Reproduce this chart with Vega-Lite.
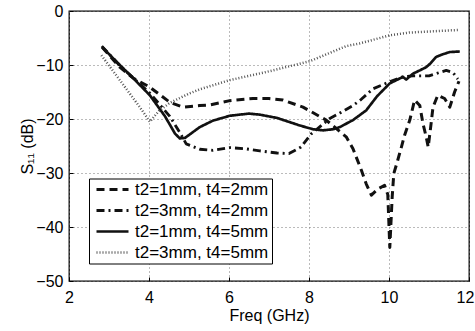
{
  "$schema": "https://vega.github.io/schema/vega-lite/v6.json",
  "width": 400,
  "height": 270,
  "autosize": "none",
  "padding": {"left": 69, "top": 11, "right": 6, "bottom": 50},
  "background": "white",
  "config": {
    "font": "Liberation Sans",
    "view": {"stroke": "black", "strokeWidth": 1.3},
    "axis": {
      "domain": false,
      "grid": true,
      "gridColor": "#777",
      "gridDash": [1, 3],
      "gridWidth": 1,
      "tickColor": "black",
      "tickSize": -4,
      "tickWidth": 1,
      "labelFont": "Liberation Sans",
      "labelFontSize": 16,
      "labelColor": "black",
      "titleFont": "Liberation Sans",
      "titleFontSize": 16,
      "titleFontWeight": "normal",
      "titleColor": "black"
    },
    "legend": {
      "labelFont": "Liberation Sans",
      "labelFontSize": 17,
      "labelColor": "black"
    }
  },
  "data": {
    "values": [
      {"series": "t2=1mm, t4=2mm", "f": 2.83, "s": -6.7},
      {"series": "t2=1mm, t4=2mm", "f": 3.27, "s": -10.4},
      {"series": "t2=1mm, t4=2mm", "f": 3.6, "s": -12.4},
      {"series": "t2=1mm, t4=2mm", "f": 4.02, "s": -14.1},
      {"series": "t2=1mm, t4=2mm", "f": 4.52, "s": -16.9},
      {"series": "t2=1mm, t4=2mm", "f": 4.85, "s": -17.8},
      {"series": "t2=1mm, t4=2mm", "f": 5.27, "s": -17.5},
      {"series": "t2=1mm, t4=2mm", "f": 5.52, "s": -17.4},
      {"series": "t2=1mm, t4=2mm", "f": 6.02, "s": -16.6},
      {"series": "t2=1mm, t4=2mm", "f": 6.6, "s": -16.2},
      {"series": "t2=1mm, t4=2mm", "f": 7.0, "s": -16.2},
      {"series": "t2=1mm, t4=2mm", "f": 7.35, "s": -16.5},
      {"series": "t2=1mm, t4=2mm", "f": 7.85, "s": -17.8},
      {"series": "t2=1mm, t4=2mm", "f": 8.43, "s": -20.2},
      {"series": "t2=1mm, t4=2mm", "f": 8.93, "s": -23.3},
      {"series": "t2=1mm, t4=2mm", "f": 9.1, "s": -25.5},
      {"series": "t2=1mm, t4=2mm", "f": 9.31, "s": -29.5},
      {"series": "t2=1mm, t4=2mm", "f": 9.43, "s": -32.0},
      {"series": "t2=1mm, t4=2mm", "f": 9.56, "s": -34.1},
      {"series": "t2=1mm, t4=2mm", "f": 9.73, "s": -32.9},
      {"series": "t2=1mm, t4=2mm", "f": 9.89, "s": -32.3},
      {"series": "t2=1mm, t4=2mm", "f": 9.97, "s": -34.0},
      {"series": "t2=1mm, t4=2mm", "f": 10.02, "s": -43.8},
      {"series": "t2=1mm, t4=2mm", "f": 10.08, "s": -34.4},
      {"series": "t2=1mm, t4=2mm", "f": 10.12, "s": -30.1},
      {"series": "t2=1mm, t4=2mm", "f": 10.22, "s": -27.6},
      {"series": "t2=1mm, t4=2mm", "f": 10.31, "s": -25.2},
      {"series": "t2=1mm, t4=2mm", "f": 10.39, "s": -23.0},
      {"series": "t2=1mm, t4=2mm", "f": 10.52, "s": -20.2},
      {"series": "t2=1mm, t4=2mm", "f": 10.64, "s": -16.5},
      {"series": "t2=1mm, t4=2mm", "f": 10.77, "s": -17.5},
      {"series": "t2=1mm, t4=2mm", "f": 10.85, "s": -20.9},
      {"series": "t2=1mm, t4=2mm", "f": 10.93, "s": -23.3},
      {"series": "t2=1mm, t4=2mm", "f": 10.98, "s": -25.2},
      {"series": "t2=1mm, t4=2mm", "f": 11.05, "s": -21.0},
      {"series": "t2=1mm, t4=2mm", "f": 11.1, "s": -17.8},
      {"series": "t2=1mm, t4=2mm", "f": 11.22, "s": -15.6},
      {"series": "t2=1mm, t4=2mm", "f": 11.39, "s": -16.2},
      {"series": "t2=1mm, t4=2mm", "f": 11.52, "s": -17.8},
      {"series": "t2=1mm, t4=2mm", "f": 11.64, "s": -15.0},
      {"series": "t2=1mm, t4=2mm", "f": 11.75, "s": -13.0},

      {"series": "t2=3mm, t4=2mm", "f": 2.82, "s": -6.5},
      {"series": "t2=3mm, t4=2mm", "f": 3.27, "s": -10.1},
      {"series": "t2=3mm, t4=2mm", "f": 4.02, "s": -15.2},
      {"series": "t2=3mm, t4=2mm", "f": 4.52, "s": -19.5},
      {"series": "t2=3mm, t4=2mm", "f": 4.77, "s": -22.5},
      {"series": "t2=3mm, t4=2mm", "f": 4.93, "s": -24.6},
      {"series": "t2=3mm, t4=2mm", "f": 5.27, "s": -25.6},
      {"series": "t2=3mm, t4=2mm", "f": 5.6, "s": -25.8},
      {"series": "t2=3mm, t4=2mm", "f": 6.02, "s": -25.3},
      {"series": "t2=3mm, t4=2mm", "f": 6.4, "s": -25.5},
      {"series": "t2=3mm, t4=2mm", "f": 6.77, "s": -25.9},
      {"series": "t2=3mm, t4=2mm", "f": 7.2, "s": -26.3},
      {"series": "t2=3mm, t4=2mm", "f": 7.5, "s": -26.4},
      {"series": "t2=3mm, t4=2mm", "f": 7.8, "s": -25.2},
      {"series": "t2=3mm, t4=2mm", "f": 8.05, "s": -22.8},
      {"series": "t2=3mm, t4=2mm", "f": 8.52, "s": -19.9},
      {"series": "t2=3mm, t4=2mm", "f": 8.77, "s": -18.9},
      {"series": "t2=3mm, t4=2mm", "f": 9.1, "s": -17.5},
      {"series": "t2=3mm, t4=2mm", "f": 9.3, "s": -16.4},
      {"series": "t2=3mm, t4=2mm", "f": 9.6, "s": -14.4},
      {"series": "t2=3mm, t4=2mm", "f": 10.02, "s": -13.1},
      {"series": "t2=3mm, t4=2mm", "f": 10.34, "s": -12.2},
      {"series": "t2=3mm, t4=2mm", "f": 10.6, "s": -12.0},
      {"series": "t2=3mm, t4=2mm", "f": 11.0, "s": -12.0},
      {"series": "t2=3mm, t4=2mm", "f": 11.3, "s": -11.3},
      {"series": "t2=3mm, t4=2mm", "f": 11.43, "s": -11.0},
      {"series": "t2=3mm, t4=2mm", "f": 11.6, "s": -11.4},
      {"series": "t2=3mm, t4=2mm", "f": 11.72, "s": -12.6},

      {"series": "t2=1mm, t4=5mm", "f": 2.83, "s": -6.7},
      {"series": "t2=1mm, t4=5mm", "f": 3.27, "s": -10.0},
      {"series": "t2=1mm, t4=5mm", "f": 3.6, "s": -12.4},
      {"series": "t2=1mm, t4=5mm", "f": 4.02, "s": -15.6},
      {"series": "t2=1mm, t4=5mm", "f": 4.4, "s": -19.5},
      {"series": "t2=1mm, t4=5mm", "f": 4.65, "s": -22.7},
      {"series": "t2=1mm, t4=5mm", "f": 4.77, "s": -23.6},
      {"series": "t2=1mm, t4=5mm", "f": 4.9, "s": -23.5},
      {"series": "t2=1mm, t4=5mm", "f": 5.27, "s": -21.5},
      {"series": "t2=1mm, t4=5mm", "f": 5.6, "s": -20.3},
      {"series": "t2=1mm, t4=5mm", "f": 6.02, "s": -19.4},
      {"series": "t2=1mm, t4=5mm", "f": 6.5, "s": -19.0},
      {"series": "t2=1mm, t4=5mm", "f": 6.77, "s": -19.2},
      {"series": "t2=1mm, t4=5mm", "f": 7.2, "s": -19.8},
      {"series": "t2=1mm, t4=5mm", "f": 7.77, "s": -21.2},
      {"series": "t2=1mm, t4=5mm", "f": 8.1, "s": -21.9},
      {"series": "t2=1mm, t4=5mm", "f": 8.35, "s": -22.1},
      {"series": "t2=1mm, t4=5mm", "f": 8.6, "s": -21.9},
      {"series": "t2=1mm, t4=5mm", "f": 8.77, "s": -21.5},
      {"series": "t2=1mm, t4=5mm", "f": 9.1, "s": -20.2},
      {"series": "t2=1mm, t4=5mm", "f": 9.43, "s": -18.4},
      {"series": "t2=1mm, t4=5mm", "f": 9.7, "s": -15.8},
      {"series": "t2=1mm, t4=5mm", "f": 10.02, "s": -13.4},
      {"series": "t2=1mm, t4=5mm", "f": 10.35, "s": -12.2},
      {"series": "t2=1mm, t4=5mm", "f": 10.43, "s": -12.7},
      {"series": "t2=1mm, t4=5mm", "f": 10.6, "s": -11.6},
      {"series": "t2=1mm, t4=5mm", "f": 10.77, "s": -11.0},
      {"series": "t2=1mm, t4=5mm", "f": 10.93, "s": -10.4},
      {"series": "t2=1mm, t4=5mm", "f": 11.05, "s": -9.6},
      {"series": "t2=1mm, t4=5mm", "f": 11.18, "s": -8.5},
      {"series": "t2=1mm, t4=5mm", "f": 11.35, "s": -8.0},
      {"series": "t2=1mm, t4=5mm", "f": 11.52, "s": -7.6},
      {"series": "t2=1mm, t4=5mm", "f": 11.77, "s": -7.5},

      {"series": "t2=3mm, t4=5mm", "f": 2.81, "s": -8.2},
      {"series": "t2=3mm, t4=5mm", "f": 3.27, "s": -12.8},
      {"series": "t2=3mm, t4=5mm", "f": 3.77, "s": -17.8},
      {"series": "t2=3mm, t4=5mm", "f": 4.02, "s": -20.5},
      {"series": "t2=3mm, t4=5mm", "f": 4.25, "s": -18.5},
      {"series": "t2=3mm, t4=5mm", "f": 4.52, "s": -17.0},
      {"series": "t2=3mm, t4=5mm", "f": 5.0, "s": -15.3},
      {"series": "t2=3mm, t4=5mm", "f": 5.27, "s": -14.5},
      {"series": "t2=3mm, t4=5mm", "f": 6.02, "s": -12.8},
      {"series": "t2=3mm, t4=5mm", "f": 6.93, "s": -11.3},
      {"series": "t2=3mm, t4=5mm", "f": 8.02, "s": -9.3},
      {"series": "t2=3mm, t4=5mm", "f": 8.93, "s": -6.5},
      {"series": "t2=3mm, t4=5mm", "f": 9.27, "s": -6.0},
      {"series": "t2=3mm, t4=5mm", "f": 10.02, "s": -4.5},
      {"series": "t2=3mm, t4=5mm", "f": 10.5, "s": -4.0},
      {"series": "t2=3mm, t4=5mm", "f": 11.0, "s": -3.8},
      {"series": "t2=3mm, t4=5mm", "f": 11.77, "s": -3.5}
    ]
  },
  "mark": {"type": "line", "strokeCap": "butt", "strokeJoin": "round", "clip": true},
  "encoding": {
    "x": {
      "field": "f", "type": "quantitative",
      "scale": {"domain": [2, 12], "nice": false, "zero": false},
      "axis": {"values": [2, 4, 6, 8, 10, 12], "title": "Freq (GHz)", "labelPadding": 12, "titlePadding": 2, "labelFlush": false, "labelOffset": {"expr": "datum.value == 12 ? -4 : 0"}}
    },
    "y": {
      "field": "s", "type": "quantitative",
      "scale": {"domain": [-50, 0], "nice": false, "zero": false},
      "axis": {"values": [-50, -40, -30, -20, -10, 0], "title": "S₁₁ (dB)", "labelPadding": 10, "titlePadding": 0, "labelFlush": false}
    },
    "strokeDash": {
      "field": "series", "type": "nominal",
      "scale": {
        "domain": ["t2=1mm, t4=2mm", "t2=3mm, t4=2mm", "t2=1mm, t4=5mm", "t2=3mm, t4=5mm"],
        "range": [[8, 5], [8, 4, 2, 4], [1, 0], [1, 2]]
      },
      "legend": {
        "title": null,
        "orient": "none",
        "legendX": 20,
        "legendY": 167.5,
        "strokeColor": "black",
        "fillColor": "white",
        "padding": 3,
        "symbolType": "stroke",
        "symbolSize": 1024,
        "symbolOffset": 3,
        "clipHeight": 16,
        "rowPadding": 4,
        "labelOffset": 5,
        "labelLimit": 300
      }
    },
    "strokeWidth": {
      "field": "series", "type": "nominal",
      "scale": {
        "domain": ["t2=1mm, t4=2mm", "t2=3mm, t4=2mm", "t2=1mm, t4=5mm", "t2=3mm, t4=5mm"],
        "range": [3, 2.5, 2.6, 2]
      }
    },
    "color": {
      "field": "series", "type": "nominal",
      "scale": {
        "domain": ["t2=1mm, t4=2mm", "t2=3mm, t4=2mm", "t2=1mm, t4=5mm", "t2=3mm, t4=5mm"],
        "range": ["#111", "#111", "#111", "#555"]
      }
    }
  }
}
